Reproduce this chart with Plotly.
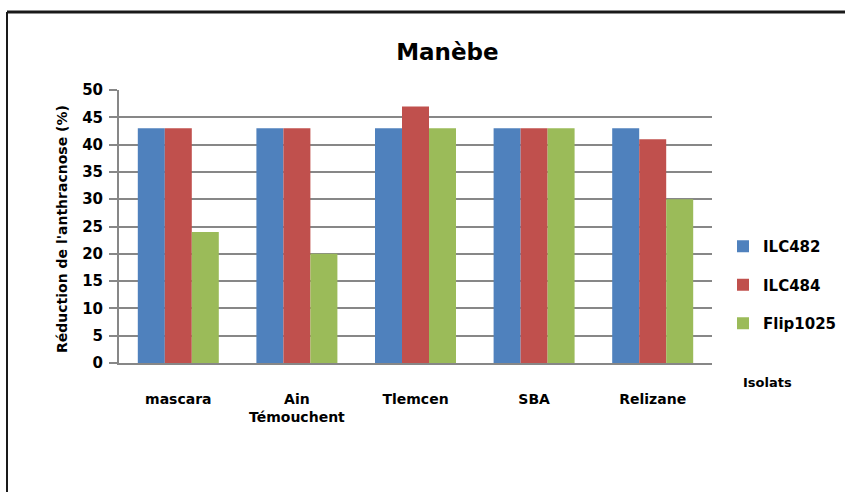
import plotly.graph_objects as go

# Data
categories = ["mascara", "Ain<br>Témouchent", "Tlemcen", "SBA", "Relizane"]
ilc482 = [43, 43, 43, 43, 43]
ilc484 = [43, 43, 47, 43, 41]
flip1025 = [24, 20, 43, 43, 30]
y_ticks = [0, 5, 10, 15, 20, 25, 30, 35, 40, 45, 50]

series = [
    ("ILC482", ilc482, "#4F81BD"),
    ("ILC484", ilc484, "#C0504D"),
    ("Flip1025", flip1025, "#9BBB59"),
]

FONT = "DejaVu Sans"

fig = go.Figure()
for name, vals, color in series:
    fig.add_trace(go.Bar(
        name=f"<b>{name}</b>", x=categories, y=vals,
        marker=dict(color=color, line=dict(width=0)),
        legendgroup=name,
    ))

W, H = 845, 492
L, R, T, B = 119, 133, 90, 129
pw, ph = W - L - R, H - T - B


def px(x):
    return (x - L) / pw


def py(y):
    return 1 - (y - T) / ph


fig.update_layout(
    width=W, height=H,
    margin=dict(l=L, r=R, t=T, b=B, autoexpand=False),
    paper_bgcolor="white", plot_bgcolor="white",
    barmode="group", bargap=0.317, bargroupgap=0,
    font=dict(family=FONT, color="black"),
    title=dict(text="<b>Manèbe</b>", x=px(433), xanchor="center",
               y=1 - 52 / H, yanchor="middle",
               font=dict(size=23, family=FONT, color="black")),
    legend=dict(x=px(723), xanchor="left", y=py(230), yanchor="top",
                font=dict(size=15, family=FONT, color="black"),
                tracegroupgap=16, traceorder="grouped",
                bgcolor="rgba(0,0,0,0)"),
    showlegend=True,
)

fig.update_yaxes(
    range=[0, 50], tickvals=y_ticks,
    ticktext=[f"<b>{v}</b>" for v in y_ticks],
    showgrid=True, gridcolor="#878787", gridwidth=2,
    showline=True, linecolor="#878787", linewidth=2,
    ticks="outside", ticklen=8, tickcolor="#878787", tickwidth=2,
    tickfont=dict(size=15, family=FONT, color="black"),
    ticklabelstandoff=3,
    zeroline=False,
)
fig.update_xaxes(
    tickvals=categories,
    ticktext=[f"<b>{c}</b>" for c in categories],
    showline=True, linecolor="#878787", linewidth=2,
    ticks="", showgrid=False,
    tickfont=dict(size=14, family=FONT, color="black"),
    ticklabelstandoff=22,
)

# Axis titles
fig.add_annotation(
    text="<b>Réduction de l'anthracnose (%)</b>",
    x=px(62), y=py(229), xref="paper", yref="paper",
    xanchor="center", yanchor="middle",
    textangle=-90, showarrow=False,
    font=dict(size=14, family=FONT, color="black"),
)
fig.add_annotation(
    text="<b>Isolats</b>",
    x=px(768), y=py(382), xref="paper", yref="paper",
    xanchor="center", yanchor="middle",
    showarrow=False,
    font=dict(size=13, family=FONT, color="black"),
)

# Outer frame (top and left edges)
fig.add_shape(type="line", xref="paper", yref="paper",
              x0=px(7), x1=px(850), y0=py(12), y1=py(12),
              line=dict(color="#1a1a1a", width=3))
fig.add_shape(type="line", xref="paper", yref="paper",
              x0=px(7), x1=px(7), y0=py(12), y1=py(500),
              line=dict(color="#1a1a1a", width=2))

fig.write_html("out.html")
